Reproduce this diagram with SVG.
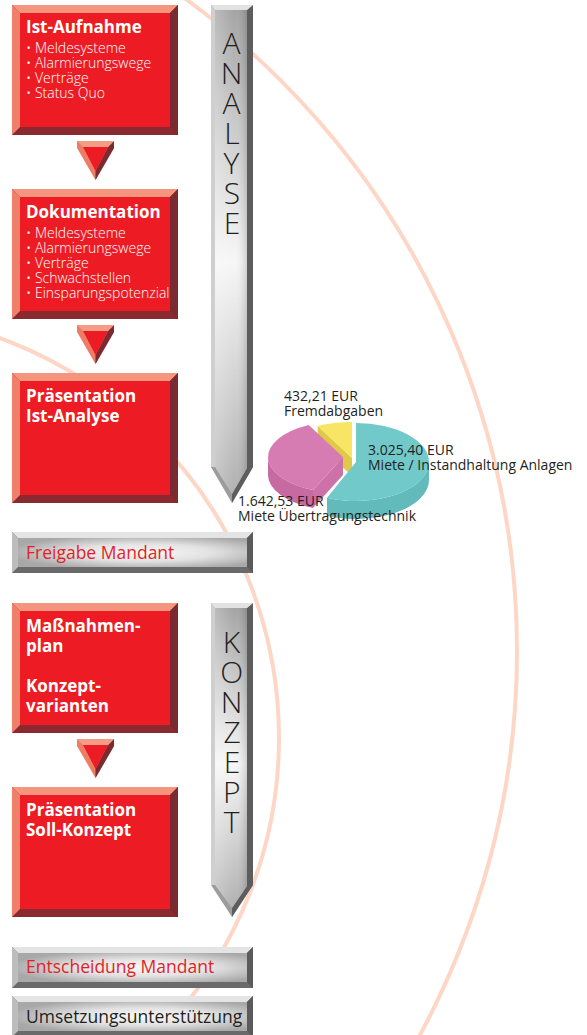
<svg xmlns="http://www.w3.org/2000/svg" width="587" height="1035" viewBox="0 0 587 1035">
<style>
.t{font-family:"Open Sans","Liberation Sans",sans-serif}
.title{font-weight:bold;font-size:17px;fill:#fff}
.bul{font-size:14px;fill:#fff;font-weight:300}
.pil{font-size:30px;font-weight:300;fill:#231f20;writing-mode:vertical-rl;text-orientation:upright;letter-spacing:-11px}
.bar{font-size:17.5px;font-weight:400}
.lab{font-size:14px;fill:#231f20;font-weight:400}
.arc{fill:none;stroke:#fdd6c5;stroke-width:4}
</style>
<defs>
<linearGradient id="pilGrad" x1="0" y1="0" x2="0" y2="1">
<stop offset="0" stop-color="#a4a4a4"/>
<stop offset="0.52" stop-color="#f7f7f7"/>
<stop offset="1" stop-color="#b0b0b0"/>
</linearGradient>
<linearGradient id="pilShade" x1="0" y1="0" x2="1" y2="0">
<stop offset="0" stop-color="#fff" stop-opacity="0.25"/>
<stop offset="0.6" stop-color="#fff" stop-opacity="0"/>
<stop offset="1" stop-color="#000" stop-opacity="0.15"/>
</linearGradient>
<radialGradient id="barGrad" cx="0.55" cy="0.5" r="0.6" fx="0.55" fy="0.5">
<stop offset="0" stop-color="#f8f8f8"/>
<stop offset="0.5" stop-color="#e2e2e2"/>
<stop offset="1" stop-color="#a8a8a8"/>
</radialGradient>
<symbol id="redbox" width="166" height="130" overflow="visible">
<rect x="0" y="0" width="166" height="130" fill="#8a2a30"/>
<polygon points="0,0 166,0 158,8 8,8" fill="#f5957d"/>
<polygon points="0,0 8,8 8,122 0,130" fill="#f0806a"/>
<polygon points="166,0 166,130 158,122 158,8" fill="#7a2b31"/>
<rect x="8" y="8" width="150" height="114" fill="#ed1c24"/>
</symbol>
<symbol id="arrow" width="37" height="39" overflow="visible">
<polygon points="0,0 37,0 37,7 18.5,39 0,7" fill="#ee7c66"/>
<polygon points="37,0 37,7 18.5,39 18.5,30 31,6" fill="#7a2b31"/>
<polygon points="0,0 37,0 31,6 6,6" fill="#f49c85"/>
<polygon points="6,6 31,6 18.5,30" fill="#ed1c24"/>
</symbol>
<symbol id="bar" width="241" height="41" overflow="visible">
<rect x="0" y="0" width="241" height="41" fill="#6a6a6a"/>
<polygon points="0,0 241,0 235,6 6,6" fill="#e4e4e4"/>
<polygon points="0,0 6,6 6,35 0,41" fill="#bdbdbd"/>
<polygon points="241,0 241,41 235,35 235,6" fill="#5a5a5a"/>
<rect x="6" y="6" width="229" height="29" fill="url(#barGrad)"/>
</symbol>
</defs>
<rect width="587" height="1035" fill="#fff"/>
<g id="arcs">
<circle class="arc" cx="-290" cy="651" r="807"/>
<circle class="arc" cx="-147" cy="738" r="426"/>
</g>
<g id="pillar-analyse">
<path d="M211,5 H253 V467 L232,503 L211,467 Z" fill="#9c9c9c"/>
<path d="M253,5 V467 L232,503 L232,494 L247,468 V10 Z" fill="#5d5d5d"/>
<path d="M211,5 L215,10 V467 L211,467 Z" fill="#cfcfcf"/>
<path d="M211,5 H253 L247,10 H215 Z" fill="#e2e2e2"/>
<path d="M215,10 H247 V468 L232,494 L215,467 Z" fill="url(#pilGrad)"/>
<path d="M215,10 H247 V468 L232,494 L215,467 Z" fill="url(#pilShade)"/>
<text class="t pil" x="232" y="22">ANALYSE</text>
</g>
<g id="pillar-konzept">
<path d="M211,603 H253 V885 L232,917 L211,885 Z" fill="#9c9c9c"/>
<path d="M253,603 V885 L232,917 L232,908 L247,886 V608 Z" fill="#5d5d5d"/>
<path d="M211,603 L215,608 V885 L211,885 Z" fill="#cfcfcf"/>
<path d="M211,603 H253 L247,608 H215 Z" fill="#e2e2e2"/>
<path d="M215,608 H247 V886 L232,908 L215,885 Z" fill="url(#pilGrad)"/>
<path d="M215,608 H247 V886 L232,908 L215,885 Z" fill="url(#pilShade)"/>
<text class="t pil" x="232" y="621">KONZEPT</text>
</g>
<g id="node-ist-aufnahme">
<use href="#redbox" x="12" y="5"/>
<text class="t title" x="26" y="33">Ist-Aufnahme</text>
<text class="t bul" x="26" y="53">• Meldesysteme</text>
<text class="t bul" x="26" y="68">• Alarmierungswege</text>
<text class="t bul" x="26" y="83">• Verträge</text>
<text class="t bul" x="26" y="98">• Status Quo</text>
</g>
<g id="node-dokumentation">
<use href="#redbox" x="12" y="189"/>
<text class="t title" x="26" y="218">Dokumentation</text>
<text class="t bul" x="26" y="238">• Meldesysteme</text>
<text class="t bul" x="26" y="253">• Alarmierungswege</text>
<text class="t bul" x="26" y="268">• Verträge</text>
<text class="t bul" x="26" y="283">• Schwachstellen</text>
<text class="t bul" x="26" y="298">• Einsparungspotenzial</text>
</g>
<g id="node-praesentation-ist">
<use href="#redbox" x="12" y="373"/>
<text class="t title" x="26" y="402">Präsentation</text>
<text class="t title" x="26" y="422">Ist-Analyse</text>
</g>
<g id="node-freigabe">
<use href="#bar" x="12" y="532"/>
<text class="t bar" x="26" y="559" fill="#e31e28">Freigabe Mandant</text>
</g>
<g id="node-massnahmen">
<use href="#redbox" x="12" y="603"/>
<text class="t title" x="26" y="632">Maßnahmen-</text>
<text class="t title" x="26" y="652">plan</text>
<text class="t title" x="26" y="692">Konzept-</text>
<text class="t title" x="26" y="712">varianten</text>
</g>
<g id="node-praesentation-soll">
<use href="#redbox" x="12" y="787"/>
<text class="t title" x="26" y="816">Präsentation</text>
<text class="t title" x="26" y="836">Soll-Konzept</text>
</g>
<g id="node-entscheidung">
<use href="#bar" x="12" y="947"/>
<text class="t bar" x="26" y="973" fill="#e31e28">Entscheidung Mandant</text>
</g>
<g id="node-umsetzung">
<use href="#bar" x="12" y="996"/>
<text class="t bar" x="26" y="1023" fill="#231f20">Umsetzungsunterstützung</text>
</g>
<g id="connectors">
<use href="#arrow" x="77" y="141"/>
<use href="#arrow" x="77" y="325"/>
<use href="#arrow" x="77" y="739"/>
</g>
<g id="pie-chart">
<polygon points="352,458 317.7,426 317.7,444 352,476" fill="#e0c948"/>
<path d="M352,458 L317.7,426 A75 36 0 0 1 352,422 Z" fill="#f8e563"/>
<path d="M313,490 A75 36 0 0 1 268,457 L268,475 A75 36 0 0 0 313,508 Z" fill="#c66aa1"/>
<polygon points="343,457 313,490 313,508 343,475" fill="#cd72a8"/>
<path d="M343,457 L313,490 A75 36 0 0 1 308.7,425 Z" fill="#d77cb2"/>
<path d="M429,462 A73 39 0 0 1 327,497.8 L327,515.8 A73 39 0 0 0 429,480 Z" fill="#62baba"/>
<path d="M356,462 L356,423 A73 39 0 0 1 429,462 A73 39 0 0 1 327,497.8 Z" fill="#71c9c9"/>
<text class="t lab" x="284" y="401">432,21 EUR</text>
<text class="t lab" x="284" y="416">Fremdabgaben</text>
<text class="t lab" x="368" y="455">3.025,40 EUR</text>
<text class="t lab" x="368" y="470">Miete / Instandhaltung Anlagen</text>
<text class="t lab" x="238" y="506">1.642,53 EUR</text>
<text class="t lab" x="238" y="521">Miete Übertragungstechnik</text>
</g>
</svg>
